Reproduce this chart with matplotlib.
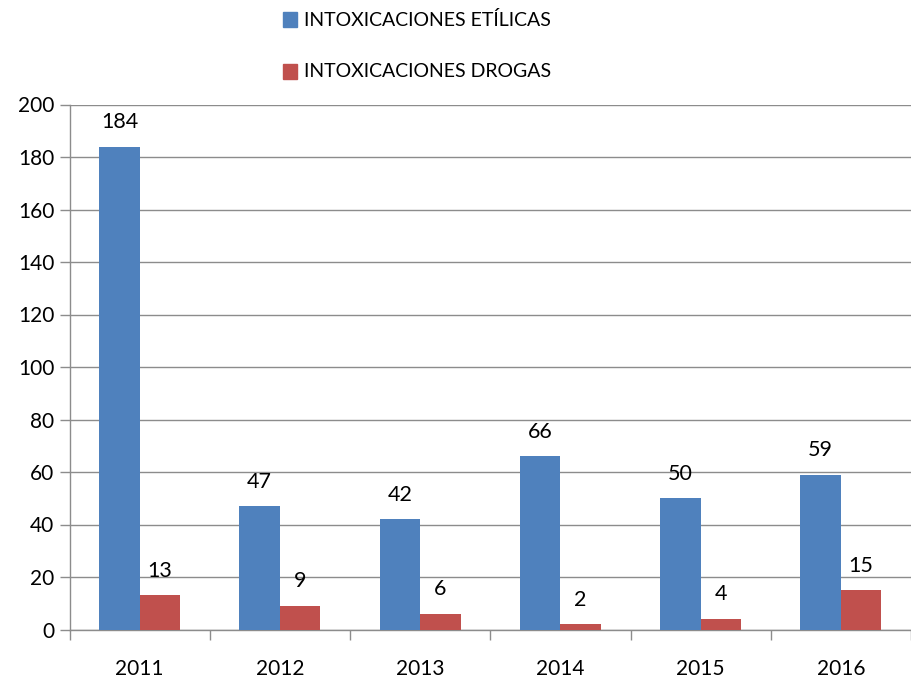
import matplotlib
matplotlib.use("Agg")
import matplotlib.pyplot as plt
import numpy as np
from matplotlib.patches import Rectangle

years = ["2011", "2012", "2013", "2014", "2015", "2016"]
etilicas = [184, 47, 42, 66, 50, 59]
drogas = [13, 9, 6, 2, 4, 15]
series_names = ["INTOXICACIONES ETÍLICAS", "INTOXICACIONES DROGAS"]
yticks = [0, 20, 40, 60, 80, 100, 120, 140, 160, 180, 200]

plt.rcParams['font.family'] = ['Lato', 'DejaVu Sans']
BLUE = "#4F81BD"
RED = "#C0504D"
GRID = "#8C8C8C"
TXT = "#000000"

fig = plt.figure(figsize=(9.11, 6.81), dpi=100)
ax = fig.add_axes([69.5/911, 1 - 629.5/681, (911 - 69.5)/911, (629.5 - 104.5)/681])

x = np.arange(len(years))
w = 0.288
b1 = ax.bar(x - w/2, etilicas, w, color=BLUE, zorder=3)
b2 = ax.bar(x + w/2, drogas, w, color=RED, zorder=3)

for bars, vals in ((b1, etilicas), (b2, drogas)):
    for r, v in zip(bars, vals):
        ax.annotate(str(v), (r.get_x() + r.get_width()/2, v), xytext=(0, 10.5),
                    textcoords="offset points", ha="center", va="bottom",
                    fontsize=15.5, color=TXT)

ax.set_xlim(-0.5, len(years) - 0.5)
ax.set_ylim(0, 200)
ax.set_yticks(yticks)
ax.set_yticklabels([str(t) for t in yticks], fontsize=15, color=TXT)
ax.yaxis.grid(True, color=GRID, linewidth=1, zorder=0)
ax.set_axisbelow(True)

ax.set_xticks(x)
ax.set_xticklabels(years, fontsize=15, color=TXT)
ax.tick_params(axis="x", length=0, pad=21)
ax.set_xticks(np.arange(-0.5, len(years)), minor=True)
ax.tick_params(axis="x", which="minor", length=7, color=GRID, width=1)
ax.tick_params(axis="y", length=7, color=GRID, width=1, pad=4)

for s in ["top", "right"]:
    ax.spines[s].set_visible(False)
for s in ["left", "bottom"]:
    ax.spines[s].set_color(GRID)
    ax.spines[s].set_linewidth(1)

# legend
for i, (name, col) in enumerate(zip(series_names, [BLUE, RED])):
    yc = 1 - (19.5 + i * 52) / 681
    fig.patches.append(Rectangle((283/911, yc - 7/681), 14/911, 14/681,
                                 transform=fig.transFigure, color=col, figure=fig))
    fig.text(304/911, yc, name, fontsize=14, va="center", ha="left", color=TXT)

fig.savefig("out.png", dpi=100)
